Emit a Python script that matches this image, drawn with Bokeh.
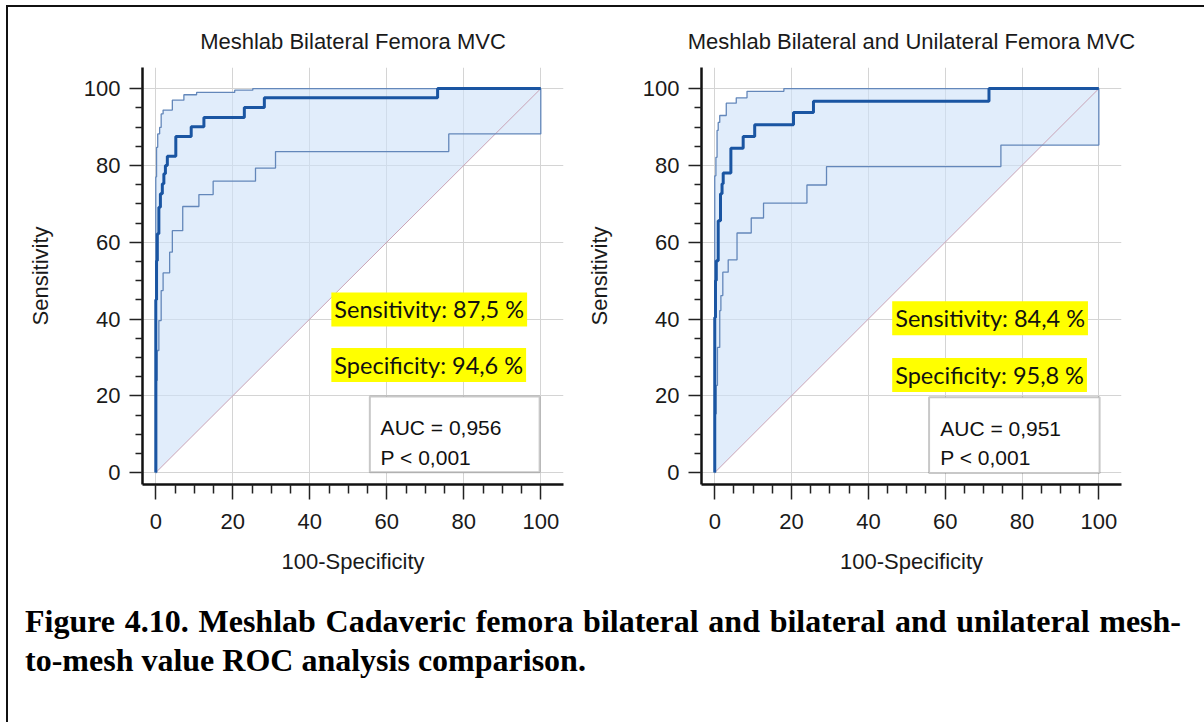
from bokeh.plotting import figure
from bokeh.models import FixedTicker, Label, BoxAnnotation, Div, Range1d
from bokeh.layouts import row, column
from bokeh.embed import file_html
from bokeh.resources import INLINE

# ---------------- data (ROC step points: x = 100-Specificity, y = Sensitivity) ----------------
left_title = "Meshlab Bilateral Femora MVC"
right_title = "Meshlab Bilateral and Unilateral Femora MVC"

left_main_fpr = [0, 0, 0.2, 0.4, 0.8, 1.2, 1.7, 2.1, 2.5, 3.0, 5.2, 9.2, 12.5, 23.0, 28.2, 73.2, 100]
left_main_tpr = [0, 45, 55.2, 62.2, 69.1, 72.6, 75.2, 77.8, 80.0, 82.4, 87.5, 90.1, 92.5, 95.1, 97.6, 100, 100]
left_upper_fpr = [0, 0, 0.2, 0.5, 1.0, 1.4, 1.9, 4.3, 7.3, 10.6, 20.5, 25.2, 100]
left_upper_tpr = [0, 77.0, 84.7, 88.2, 89.9, 93.4, 94.4, 97.0, 98.4, 99.0, 99.6, 100, 100]
left_lower_fpr = [0, 0.2, 0.4, 0.8, 1.4, 1.9, 3.6, 4.3, 7.0, 11.2, 14.9, 25.9, 31.1, 76.1, 100]
left_lower_tpr = [0, 24.0, 31.8, 39.6, 47.4, 52.0, 57.4, 63.0, 69.3, 72.4, 75.9, 79.3, 83.6, 88.2, 100]

right_main_fpr = [0, 0, 0.2, 0.4, 0.9, 1.5, 1.9, 2.2, 4.2, 7.4, 10.4, 20.5, 25.7, 71.4, 100]
right_main_tpr = [0, 40.4, 50.0, 55.2, 65.6, 72.6, 75.2, 78.0, 84.5, 87.5, 90.6, 93.8, 96.7, 100, 100]
right_upper_fpr = [0, 0, 0.3, 0.6, 0.9, 1.3, 3.0, 5.6, 8.4, 18.0, 100]
right_upper_tpr = [0, 77.3, 82.1, 89.1, 91.2, 93.0, 96.2, 97.6, 99.3, 100, 100]
right_lower_fpr = [0, 0.1, 0.4, 0.7, 1.3, 1.6, 2.1, 3.5, 5.8, 9.5, 12.7, 24.0, 29.1, 74.5, 100]
right_lower_tpr = [0, 15.3, 22.7, 32.6, 42.2, 46.1, 52.2, 55.4, 62.4, 66.3, 70.2, 74.9, 79.7, 85.3, 100]

left_sensitivity = "Sensitivity: 87,5 %"
left_specificity = "Specificity: 94,6 %"
left_auc = "AUC = 0,956"
left_p = "P < 0,001"
right_sensitivity = "Sensitivity: 84,4 %"
right_specificity = "Specificity: 95,8 %"
right_auc = "AUC = 0,951"
right_p = "P < 0,001"

x_ticks = [0, 20, 40, 60, 80, 100]
y_ticks = [0, 20, 40, 60, 80, 100]
minor_ticks = [5, 10, 15, 25, 30, 35, 45, 50, 55, 65, 70, 75, 85, 90, 95]
diag = [0, 100]

caption_line1 = "Figure 4.10. Meshlab Cadaveric femora bilateral and bilateral and unilateral mesh-"
caption_line2 = "to-mesh value ROC analysis comparison."

# ---------------- helpers ----------------
def expand_steps(xs, ys):
    vx, vy = [xs[0]], [ys[0]]
    for i in range(1, len(xs)):
        vx += [xs[i], xs[i]]
        vy += [ys[i - 1], ys[i]]
    return vx, vy


def min_with_diagonal(vx, vy):
    ox, oy = [], []
    for i in range(len(vx) - 1):
        xa, ya, xb, yb = vx[i], vy[i], vx[i + 1], vy[i + 1]
        ox.append(xa)
        oy.append(min(ya, xa))
        if ya == yb and xa < ya < xb:
            ox.append(ya)
            oy.append(ya)
    ox.append(vx[-1])
    oy.append(min(vy[-1], vx[-1]))
    return ox, oy


SANS = "Liberation Sans"
MAIN_COLOR = "#1a55a2"
CI_COLOR = "#6387ba"


def make_chart(title, main, upper, lower, sens, spec, auc, pval,
               width, mb_left, mb_right, sens_pos, spec_pos, box, auc_pos, p_pos):
    p = figure(width=width, height=583, x_range=Range1d(-3.45, 105.9), y_range=Range1d(-3.1, 105.5),
               output_backend="svg", toolbar_location=None,
               min_border_left=mb_left, min_border_right=mb_right,
               min_border_top=60, min_border_bottom=106)
    p.outline_line_color = None
    p.background_fill_color = "white"
    p.border_fill_color = "white"

    p.title.text = title
    p.title.align = "center"
    p.title.text_font = SANS
    p.title.text_font_size = "22px"
    p.title.text_font_style = "normal"
    p.title.text_color = "#1a1a1a"
    p.title.standoff = 27

    for ax, ticks in ((p.xaxis[0], x_ticks), (p.yaxis[0], y_ticks)):
        ax.ticker = FixedTicker(ticks=ticks, minor_ticks=minor_ticks)
        ax.axis_line_width = 2.5
        ax.axis_line_color = "#111111"
        ax.major_tick_line_color = "#222222"
        ax.major_tick_line_width = 1.5
        ax.minor_tick_line_color = "#222222"
        ax.minor_tick_line_width = 1.5
        ax.major_tick_in = 0
        ax.minor_tick_in = 0
        ax.major_label_text_font = SANS
        ax.major_label_text_font_size = "22px"
        ax.major_label_text_color = "#1a1a1a"
        ax.axis_label_text_font = SANS
        ax.axis_label_text_font_size = "22px"
        ax.axis_label_text_font_style = "normal"
        ax.axis_label_text_color = "#1a1a1a"
    p.xaxis.axis_label = "100-Specificity"
    p.yaxis.axis_label = "Sensitivity"
    p.xaxis.major_tick_out = 15
    p.xaxis.minor_tick_out = 9
    p.yaxis.major_tick_out = 13
    p.yaxis.minor_tick_out = 7
    p.xaxis.major_label_standoff = 14
    p.yaxis.major_label_standoff = 9
    p.xaxis.axis_label_standoff = 17
    p.yaxis.axis_label_standoff = 28

    p.xgrid.ticker = FixedTicker(ticks=x_ticks)
    p.ygrid.ticker = FixedTicker(ticks=y_ticks)
    for g in (p.xgrid[0], p.ygrid[0]):
        g.grid_line_color = "#d4d4d4"
        g.grid_line_width = 1

    ux, uy = expand_steps(*upper)
    lx, ly = expand_steps(*lower)
    mx, my = expand_steps(*main)
    bx, by = min_with_diagonal(lx, ly)
    p.patch(ux + bx[::-1], uy + by[::-1], fill_color="#cde1f8", fill_alpha=0.6, line_color=None)
    p.line(diag, diag, line_color="#c9a3b6", line_width=1)
    p.line(ux, uy, line_color=CI_COLOR, line_width=1.3)
    p.line(lx, ly, line_color=CI_COLOR, line_width=1.3)
    p.line(mx, my, line_color=MAIN_COLOR, line_width=3)

    for txt, (x, y) in ((sens, sens_pos), (spec, spec_pos)):
        p.add_layout(Label(x=x, y=y, text=txt, text_font="Lato", text_font_size="23.5px",
                           text_color="#111111", text_baseline="middle", padding=3,
                           background_fill_color="#ffff00", background_fill_alpha=1.0))
    p.add_layout(BoxAnnotation(left=box[0], right=box[1], top=box[2], bottom=box[3],
                               fill_color="white", fill_alpha=1.0,
                               line_color="#4a4a4a", line_width=2))
    for txt, (x, y) in ((auc, auc_pos), (pval, p_pos)):
        p.add_layout(Label(x=x, y=y, text=txt, text_font=SANS, text_font_size="21px",
                           text_color="#111111", text_baseline="alphabetic"))
    return p


p1 = make_chart(left_title, (left_main_fpr, left_main_tpr), (left_upper_fpr, left_upper_tpr),
                (left_lower_fpr, left_lower_tpr), left_sensitivity, left_specificity, left_auc, left_p,
                width=575, mb_left=134, mb_right=20,
                sens_pos=(45.6, 42.5), spec_pos=(45.6, 28.0), box=(55.6, 99.7, 19.8, 0.1),
                auc_pos=(58.4, 11.8), p_pos=(58.4, 4.0))
p2 = make_chart(right_title, (right_main_fpr, right_main_tpr), (right_upper_fpr, right_upper_tpr),
                (right_lower_fpr, right_lower_tpr), right_sensitivity, right_specificity, right_auc, right_p,
                width=621, mb_left=117, mb_right=83,
                sens_pos=(46.2, 40.2), spec_pos=(46.2, 25.4), box=(55.8, 100.2, 19.6, -0.1),
                auc_pos=(58.7, 11.4), p_pos=(58.7, 4.0))

caption_html = (
    '<div style="font-family:\'Liberation Serif\',\'Times New Roman\',serif;font-weight:bold;'
    'font-size:32px;color:#000;line-height:39px;padding-left:12px;padding-top:7px;">'
    '<div style="width:1156px;text-align:justify;text-align-last:justify;white-space:nowrap;">'
    + caption_line1 + '</div><div>' + caption_line2 + '</div></div>'
)
cap = Div(text=caption_html, width=1196, height=125)

root = column(row(p1, p2), cap,
              styles={"border-top": "2px solid #111", "border-left": "2px solid #111"},
              margin=(5, 0, 0, 6))

open("out.html", "w").write(file_html(root, INLINE))
